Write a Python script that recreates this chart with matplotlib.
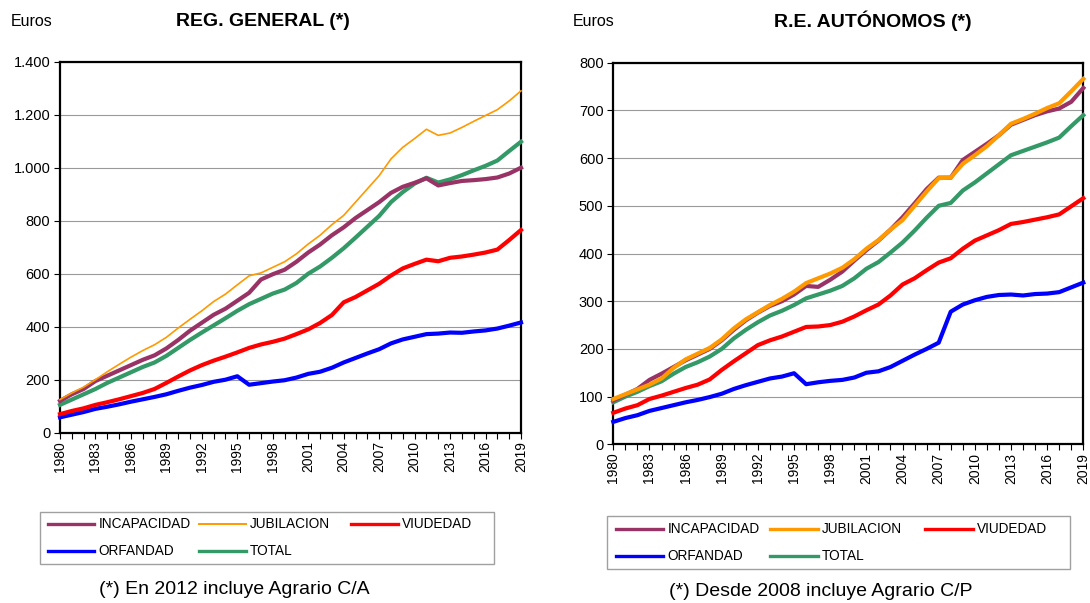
import matplotlib
matplotlib.use("Agg")
import matplotlib.pyplot as plt
from matplotlib.ticker import FuncFormatter, MultipleLocator
from matplotlib.lines import Line2D
from matplotlib.patches import Rectangle

plt.rcParams['font.family'] = ['Liberation Sans', 'DejaVu Sans']

years = list(range(1980, 2020))

# REG. GENERAL
rg_incapacidad = [120, 145, 165, 195, 215, 235, 255, 275, 292, 318, 350, 385, 415, 445, 468, 498, 528, 578, 598, 615,
                  645, 680, 710, 745, 775, 810, 840, 870, 905, 928, 943, 960, 933, 942, 950, 953, 957, 963, 978, 1000]
rg_jubilacion = [125, 150, 172, 200, 230, 258, 285, 310, 332, 360, 395, 428, 460, 495, 523, 558, 592, 603, 624, 645,
                 675, 712, 745, 785, 820, 870, 920, 970, 1033, 1077, 1110, 1145, 1122, 1131, 1152, 1175, 1197, 1219, 1252, 1290]
rg_viudedad = [70, 82, 92, 105, 115, 126, 138, 150, 165, 188, 212, 235, 255, 272, 287, 303, 320, 333, 343, 355,
               372, 390, 414, 444, 492, 512, 537, 562, 593, 620, 637, 653, 647, 660, 665, 672, 680, 691, 727, 765]
rg_orfandad = [58, 68, 78, 90, 98, 107, 117, 126, 135, 145, 158, 170, 180, 192, 200, 213, 181, 187, 193, 198,
               208, 222, 230, 245, 265, 282, 299, 315, 337, 352, 362, 372, 374, 378, 377, 382, 386, 393, 404, 416]
rg_total = [105, 125, 145, 165, 188, 208, 228, 248, 265, 290, 320, 350, 378, 405, 432, 460, 485, 505, 525, 540,
            565, 600, 627, 660, 696, 736, 777, 818, 870, 908, 940, 962, 944, 956, 972, 990, 1007, 1027, 1063, 1098]

# R.E. AUTONOMOS
ra_incapacidad = [92, 104, 116, 135, 148, 162, 176, 188, 200, 218, 240, 260, 276, 290, 300, 314, 332, 330, 345, 362,
                  385, 407, 427, 450, 476, 505, 535, 559, 559, 596, 613, 630, 648, 670, 680, 690, 698, 704, 718, 747]
ra_jubilacion = [95, 105, 115, 125, 138, 160, 178, 190, 202, 220, 243, 262, 277, 292, 305, 320, 338, 348, 358, 370,
                 388, 410, 428, 450, 470, 500, 530, 558, 559, 588, 606, 625, 648, 672, 682, 693, 705, 715, 740, 766]
ra_viudedad = [66, 75, 82, 95, 102, 110, 118, 125, 136, 156, 174, 191, 208, 218, 226, 236, 246, 247, 250, 257,
               268, 281, 293, 312, 335, 348, 365, 381, 390, 410, 427, 438, 449, 462, 466, 471, 476, 482, 499, 516]
ra_orfandad = [47, 55, 61, 70, 76, 82, 88, 93, 99, 106, 116, 124, 131, 138, 142, 149, 126, 130, 133, 135,
               140, 150, 153, 162, 175, 188, 200, 213, 278, 293, 302, 309, 313, 314, 312, 315, 316, 319, 329, 339]
ra_total = [88, 100, 110, 122, 132, 148, 162, 172, 184, 200, 222, 240, 256, 270, 280, 292, 306, 314, 322, 332,
            348, 368, 382, 402, 423, 448, 475, 500, 506, 532, 549, 568, 587, 606, 615, 624, 633, 643, 667, 690]

labels = ["INCAPACIDAD", "JUBILACION", "VIUDEDAD", "ORFANDAD", "TOTAL"]
colors = ["#993366", "#FF9900", "#FF0000", "#0000FF", "#339966"]

fig = plt.figure(figsize=(10.9, 6.03), dpi=100)
W, H = 1090, 603

def fx(x):
    return x / W

def fy(y):
    return 1 - y / H

def make_axes(x0, x1, ytop, ybot):
    return fig.add_axes([fx(x0), fy(ybot), (x1 - x0) / W, (ybot - ytop) / H])

ax1 = make_axes(60, 521, 61.7, 432.7)
ax2 = make_axes(613.3, 1083.3, 62.7, 444.3)

def style(ax, ymax, ystep):
    ax.set_xlim(1980, 2019)
    ax.set_ylim(0, ymax)
    ax.yaxis.set_major_locator(MultipleLocator(ystep))
    ax.yaxis.set_major_formatter(FuncFormatter(lambda v, p: f"{int(v):,}".replace(",", ".")))
    ax.set_xticks(list(range(1980, 2020, 3)))
    ax.set_xticks(years, minor=True)
    ax.set_xticklabels([str(y) for y in range(1980, 2020, 3)], rotation=90)
    ax.tick_params(axis='x', which='both', direction='out', length=4, width=0.8, labelsize=10, pad=2)
    ax.tick_params(axis='y', direction='out', length=4, width=0.8, labelsize=10.5, pad=3)
    ax.grid(axis='y', color='#9a9a9a', lw=0.8)
    ax.set_axisbelow(True)
    for s in ax.spines.values():
        s.set_linewidth(1.6)
        s.set_color('black')

rg = [rg_incapacidad, rg_jubilacion, rg_viudedad, rg_orfandad, rg_total]
ra = [ra_incapacidad, ra_jubilacion, ra_viudedad, ra_orfandad, ra_total]
rg_lw = [3, 1.2, 3, 3, 3]
ra_lw = [3, 3, 3, 3, 3]
order = [4, 3, 2, 0, 1]
for i in order:
    ax1.plot(years, rg[i], color=colors[i], lw=rg_lw[i], solid_joinstyle='round', clip_on=False, zorder=3)
    ax2.plot(years, ra[i], color=colors[i], lw=ra_lw[i], solid_joinstyle='round', clip_on=False, zorder=3)

style(ax1, 1400, 200)
style(ax2, 800, 100)

fig.text(fx(263), fy(21), "REG. GENERAL (*)", ha='center', va='center', fontsize=14, fontweight='bold')
fig.text(fx(873), fy(21), "R.E. AUTÓNOMOS (*)", ha='center', va='center', fontsize=14, fontweight='bold')
fig.text(fx(11), fy(21), "Euros", ha='left', va='center', fontsize=11.5)
fig.text(fx(573), fy(21), "Euros", ha='left', va='center', fontsize=11.5)

def add_legend(lws, box, hx0, col_step, rows_y, hlen, tpad):
    x0, x1, ytop, ybot = box
    rect = Rectangle((fx(x0), fy(ybot)), (x1 - x0) / W, (ybot - ytop) / H,
                     transform=fig.transFigure, fill=False, edgecolor='#a0a0a0', lw=1.0)
    fig.add_artist(rect)
    for k, (lab, c, lw) in enumerate(zip(labels, colors, lws)):
        r, col = divmod(k, 3)
        hx = hx0 + col * col_step
        yy = rows_y[r]
        fig.add_artist(Line2D([fx(hx), fx(hx + hlen)], [fy(yy), fy(yy)], color=c, lw=lw,
                              transform=fig.transFigure))
        fig.text(fx(hx + hlen + tpad), fy(yy), lab, ha='left', va='center', fontsize=9.8)

add_legend([2.4, 1.4, 2.4, 2.4, 2.4], (40, 494, 512, 564), 47.7, 151.7, (524, 550.7), 46.6, 4)
add_legend([2.4, 2.4, 2.4, 2.4, 2.4], (606.7, 1070, 515.7, 569.3), 615.7, 154.7, (528.7, 556), 47.6, 4)

fig.text(fx(234), fy(590), "(*) En 2012 incluye Agrario C/A", ha='center', va='center', fontsize=14)
fig.text(fx(821), fy(592), "(*) Desde 2008 incluye Agrario C/P", ha='center', va='center', fontsize=14)

fig.savefig("out.png", dpi=100)
